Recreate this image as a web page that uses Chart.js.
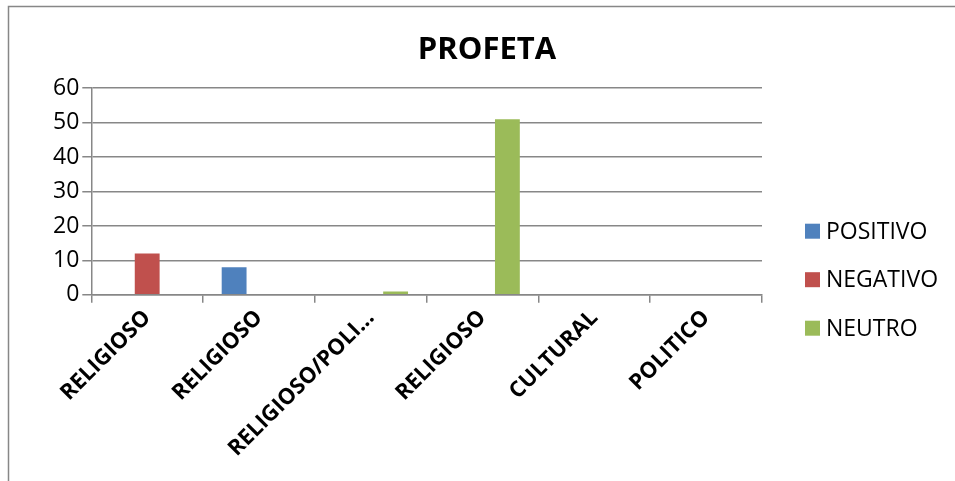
<!DOCTYPE html>
<html>
<head>
<meta charset="utf-8">
<script src="https://cdn.jsdelivr.net/npm/chart.js@4.4.1/dist/chart.umd.min.js"></script>
<style>
  html, body { margin: 0; padding: 0; background: #fff; }
</style>
</head>
<body>
<canvas id="grafica" width="955" height="481"></canvas>
<script>
// datos
const categorias = ['RELIGIOSO', 'RELIGIOSO', 'RELIGIOSO/POLI...', 'RELIGIOSO', 'CULTURAL', 'POLITICO'];
const positivo = [0, 8, 0, 0, 0, 0];
const negativo = [12, 0, 0, 0, 0, 0];
const neutro = [0, 0, 1, 51, 0, 0];
const series = ['POSITIVO', 'NEGATIVO', 'NEUTRO'];
const colores = ['#4F81BD', '#C0504D', '#9BBB59'];

const fuente = "'Open Sans', 'Liberation Sans', sans-serif";
const gris = '#878787';

// marco del grafico (solo arriba e izquierda, como en la imagen)
const marco = {
    id: 'marco',
    afterLayout(chart) {
        // el titulo va centrado en todo el marco, no solo en la zona del grafico
        if (chart.titleBlock) {
            chart.titleBlock.left = 8;
            chart.titleBlock.right = 966;
        }
    },
    beforeDraw(chart) {
        const ctx = chart.ctx;
        ctx.save();
        ctx.strokeStyle = gris;
        ctx.lineWidth = 1.5;
        ctx.beginPath();
        ctx.moveTo(8.5, chart.height);
        ctx.lineTo(8.5, 6.5);
        ctx.lineTo(chart.width, 6.5);
        ctx.stroke();
        ctx.restore();
    }
};

// leyenda a mano
const leyenda = {
    id: 'leyenda',
    afterDraw(chart) {
        const ctx = chart.ctx;
        const area = chart.chartArea;
        ctx.save();
        ctx.font = '23px ' + fuente;
        ctx.textBaseline = 'middle';
        chart.data.datasets.forEach(function (ds, i) {
            let y = area.top + 143 + i * 48.5;
            ctx.fillStyle = ds.backgroundColor;
            ctx.fillRect(area.right + 43, y - 7.5, 15, 15);
            ctx.fillStyle = '#000';
            ctx.fillText(ds.label, area.right + 64, y + 1);
        });
        ctx.restore();
    }
};

let myChart = new Chart(document.getElementById('grafica'), {
    type: 'bar',
    data: {
        labels: categorias,
        datasets: [
            { label: series[0], data: positivo, backgroundColor: colores[0] },
            { label: series[1], data: negativo, backgroundColor: colores[1] },
            { label: series[2], data: neutro, backgroundColor: colores[2] }
        ]
    },
    options: {
        responsive: false,
        animation: false,
        layout: {
            padding: { left: 50, right: 193, top: 0, bottom: 17 }
        },
        datasets: {
            bar: {
                categoryPercentage: 0.667,
                barPercentage: 1,
                borderWidth: 0
            }
        },
        scales: {
            x: {
                offset: true,
                grid: {
                    offset: true,
                    drawOnChartArea: false,
                    drawTicks: true,
                    tickLength: 8,
                    color: gris,
                    lineWidth: 1.5
                },
                border: { color: gris, width: 1.5 },
                ticks: {
                    autoSkip: false,
                    minRotation: 45,
                    maxRotation: 45,
                    color: '#000',
                    padding: 2,
                    font: { family: fuente, size: 22, weight: 'bold' }
                }
            },
            y: {
                min: 0,
                max: 60,
                ticks: {
                    stepSize: 10,
                    color: '#000',
                    padding: 3,
                    font: { family: fuente, size: 23 }
                },
                grid: {
                    color: gris,
                    lineWidth: 1.5,
                    tickLength: 9
                },
                border: { color: gris, width: 1.5 }
            }
        },
        plugins: {
            legend: { display: false },
            tooltip: { enabled: false },
            title: {
                display: true,
                text: 'PROFETA',
                color: '#000',
                padding: { top: 32, bottom: 19 },
                font: { family: fuente, size: 31, weight: 'bold' }
            }
        }
    },
    plugins: [marco, leyenda]
});
</script>
</body>
</html>
